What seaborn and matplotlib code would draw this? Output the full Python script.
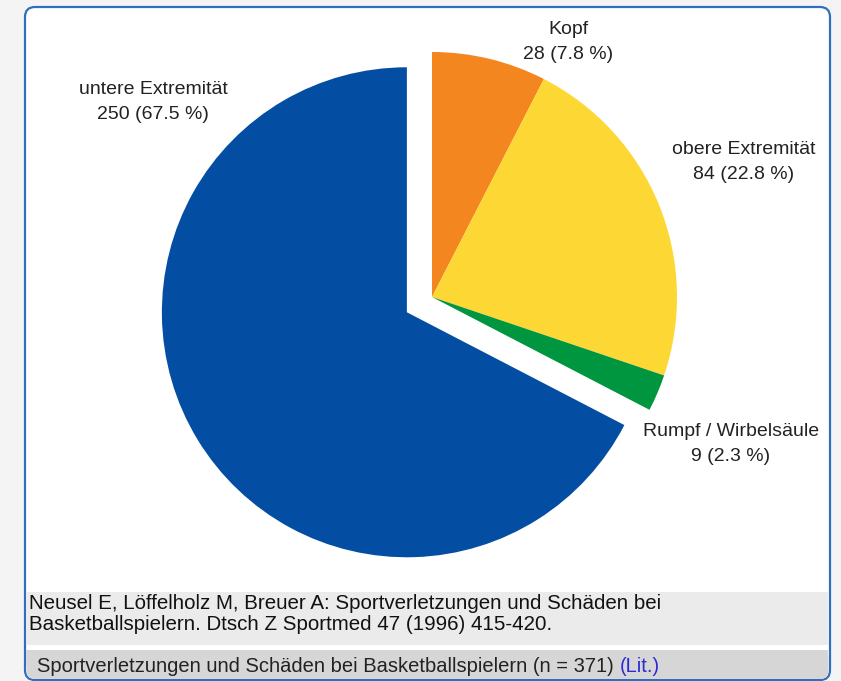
import matplotlib
matplotlib.use("Agg")
import matplotlib.pyplot as plt
from matplotlib.patches import FancyBboxPatch, Rectangle
import seaborn as sns

# data
regions = ["Kopf", "obere Extremität", "Rumpf / Wirbelsäule", "untere Extremität"]
counts = [28, 84, 9, 250]
pct_labels = ["7.8 %", "22.8 %", "2.3 %", "67.5 %"]
slice_colors = ["#f4861f", "#fdd835", "#00963f", "#034ea2"]
explode = [0, 0, 0, 0.12]  # fraction of radius
n_total = 371
citation = ["Neusel E, Löffelholz M, Breuer A: Sportverletzungen und Schäden bei",
            "Basketballspielern. Dtsch Z Sportmed 47 (1996) 415-420."]
caption = "Sportverletzungen und Schäden bei Basketballspielern (n = {})".format(n_total)

W, H = 841, 681
R = 245  # pie radius in pixels


def main():
    sns.set_theme(style="white")
    plt.rcParams['font.family'] = ['Liberation Sans', 'DejaVu Sans']

    fig = plt.figure(figsize=(W / 100, H / 100), dpi=100)
    fig.patch.set_facecolor("#f4f4f4")
    ax = fig.add_axes([0, 0, 1, 1])

    # white panel with blue rounded frame
    ax.add_patch(FancyBboxPatch((25, 1), 805, H - 8, boxstyle="round,pad=0,rounding_size=10",
                                facecolor="white", edgecolor="#2f6fbf", lw=1.6, zorder=0))

    # pie drawn in pixel units (y up); explode is in data units here so scale by radius
    ax.pie(counts, colors=slice_colors, explode=[e * R for e in explode], startangle=90,
           counterclock=False, center=(432, H - 297), radius=R,
           wedgeprops=dict(linewidth=0), frame=True)
    ax.set_xlim(0, W)
    ax.set_ylim(0, H)
    ax.set_aspect("equal")
    ax.axis("off")

    # slice labels
    label_pos = [(568, 42), (744, 162), (731, 444), (153, 102)]
    for name, c, p, (x, y) in zip(regions, counts, pct_labels, label_pos):
        ax.text(x, H - y, "{}\n{} ({})".format(name, c, p), ha="center", va="center",
                fontsize=14, color="#222222", linespacing=1.55)

    # citation box
    ax.add_patch(Rectangle((26.5, H - 645), 802, 53, facecolor="#ebebeb", edgecolor="none", zorder=1))
    ax.text(29, H - 614, "\n".join(citation), ha="left", va="center", fontsize=14.8,
            color="#111111", linespacing=1.1, zorder=2)

    # caption bar
    ax.add_patch(FancyBboxPatch((26.5, 2), 802, 28, boxstyle="round,pad=0,rounding_size=8",
                                facecolor="#d6d6d6", edgecolor="none", zorder=1))
    ax.add_patch(Rectangle((26.5, 15), 802, 16, facecolor="#d6d6d6", edgecolor="none", zorder=1))
    t = ax.text(37, H - 666, caption, ha="left", va="center", fontsize=14.5, color="#222222", zorder=2)
    ax.annotate("(Lit.)", xy=(1, 0.5), xycoords=t, xytext=(4, 0), textcoords="offset points",
                ha="left", va="center", fontsize=14.5, color="#2a2ad6", zorder=2)

    fig.savefig("out.png", dpi=100, facecolor=fig.get_facecolor())


if __name__ == "__main__":
    main()
